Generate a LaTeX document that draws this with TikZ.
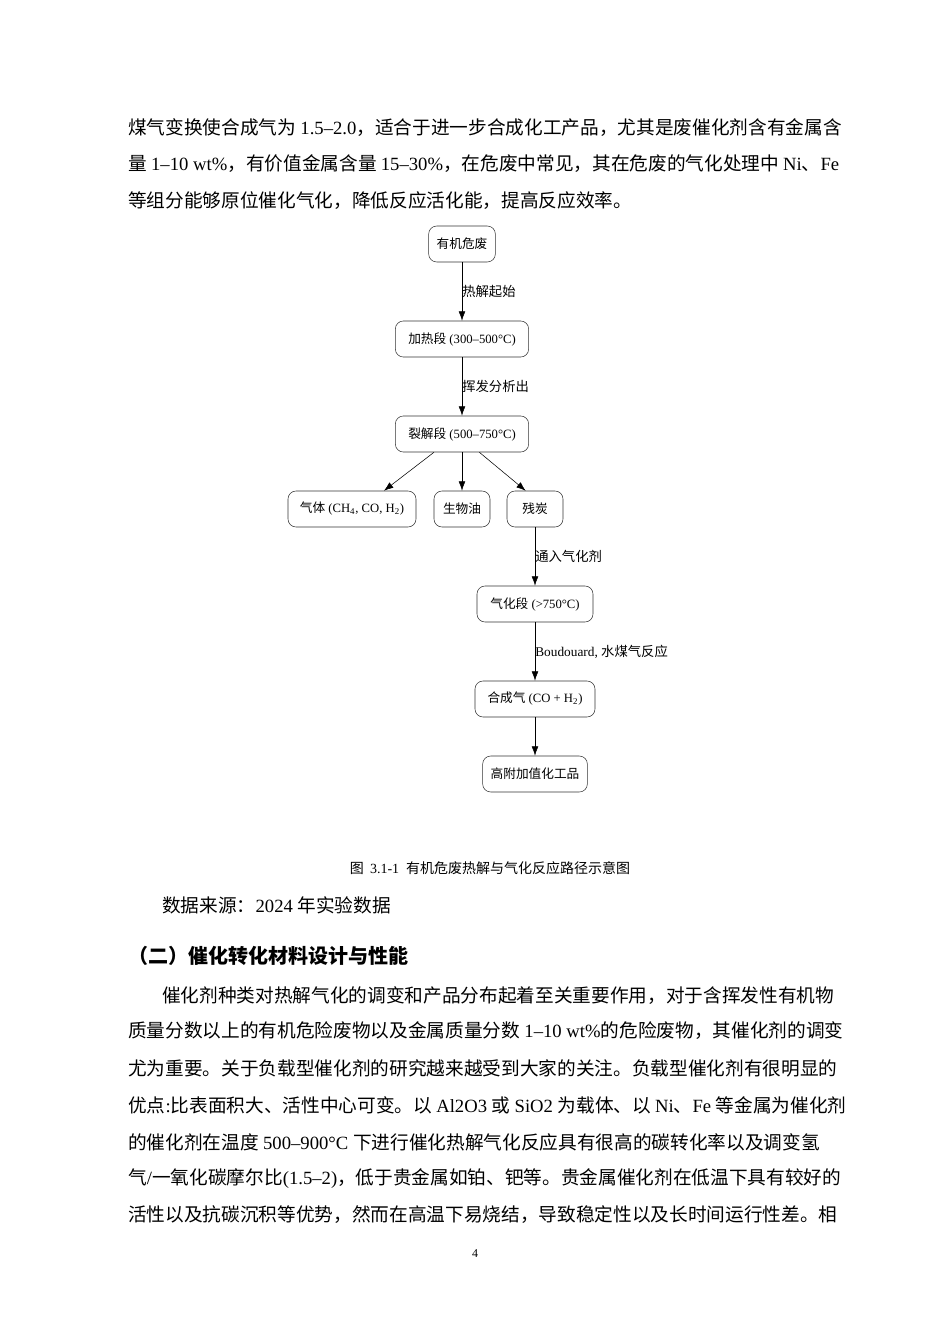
\documentclass[tikz,border=0pt]{standalone}
\usepackage{fontspec}
\setmainfont{Liberation Serif}
\newfontfamily\cjk{Noto Sans CJK SC}
\newfontfamily\cjksans{Noto Sans CJK SC}
\usetikzlibrary{positioning, arrows.meta}

\begin{document}
\begin{tikzpicture}[
    x=0.75pt, y=-0.75pt,
    stage/.style={rectangle, rounded corners=6pt, draw=black!80, thin, minimum height=27pt, inner xsep=6pt, font=\fontsize{9.5}{11}\selectfont},
    arrow/.style={-{Latex[length=7pt,width=5pt]}, thin},
    lbl/.style={right, inner xsep=0pt, font=\cjk\fontsize{10}{11}\selectfont},
    body/.style={anchor=west, inner sep=0pt, font=\fontsize{14}{16}\selectfont}
]
\useasboundingbox (0,0) rectangle (950,1344);

% Text above the picture
\node[body] (t1) at (128,128) {\cjk 煤气变换使合成气为 \rmfamily 1.5–2.0\cjk ，适合于进一步合成化工产品，尤其是废催化剂含有金属含};
\node[body] (t2) at (128,164) {\cjk 量 \rmfamily 1–10 wt\%\cjk ，有价值金属含量 \rmfamily 15–30\%\cjk ，在危废中常见，其在危废的气化处理中 \rmfamily Ni\cjk 、\rmfamily Fe};
\node[body] (t3) at (128,201) {\cjk 等组分能够原位催化气化，降低反应活化能，提高反应效率。};

% Nodes
\node[stage, minimum width=50pt] (waste) at (462,244) {\cjk 有机危废};
\node[stage, minimum width=100pt] (heat) at (462,339) {\cjk 加热段\rmfamily\ (300–500°C)};
\node[stage, minimum width=100pt] (split) at (462,434) {\cjk 裂解段\rmfamily\ (500–750°C)};
\node[stage, minimum width=96pt] (gas) at (352,509) {\cjk 气体\rmfamily\ (CH\textsubscript{4}, CO, H\textsubscript{2})};
\node[stage, minimum width=42pt] (oil) at (462,509) {\cjk 生物油};
\node[stage, minimum width=42pt] (char) at (535,509) {\cjk 残炭};
\node[stage, minimum width=87pt] (gasif) at (535,604) {\cjk 气化段\rmfamily\ (>750°C)};
\node[stage, minimum width=90pt] (syn) at (535,699) {\cjk 合成气\rmfamily\ (CO + H\textsubscript{2})};
\node[stage, minimum width=77pt] (prod) at (535,774) {\cjk 高附加值化工品};

% Arrows
\draw[arrow] (waste) -- node[lbl] {热解起始} (heat);
\draw[arrow] (heat) -- node[lbl] {挥发分析出} (split);
\draw[arrow] ([xshift=-21pt]split.south) -- ([xshift=24pt]gas.north);
\draw[arrow] (split) -- (oil);
\draw[arrow] ([xshift=13pt]split.south) -- ([xshift=-7pt]char.north);
\draw[arrow] (char) -- node[lbl] {通入气化剂} (gasif);
\draw[arrow] (gasif) -- node[lbl] {\rmfamily Boudouard, \cjk 水煤气反应} (syn);
\draw[arrow] (syn) -- (prod);

% Caption and text below
\node[font=\fontsize{10.5}{12}\selectfont] (cap) at (490,868) {\cjk 图\ \ \rmfamily 3.1-1\ \ \cjk 有机危废热解与气化反应路径示意图};
\node[body] (src) at (162,905) {\cjk 数据来源：\rmfamily 2024 \cjk 年实验数据};
\node[body, font=\cjksans\bfseries\fontsize{15}{18}\selectfont] (head) at (128,956) {（二）催化转化材料设计与性能};
\node[body] (p1) at (162,996) {\cjk 催化剂种类对热解气化的调变和产品分布起着至关重要作用，对于含挥发性有机物};
\node[body] (p2) at (128,1031) {\cjk 质量分数以上的有机危险废物以及金属质量分数 \rmfamily 1–10 wt\%\cjk 的危险废物，其催化剂的调变};
\node[body] (p3) at (128,1068) {\cjk 尤为重要。关于负载型催化剂的研究越来越受到大家的关注。负载型催化剂有很明显的};
\node[body] (p4) at (128,1105) {\cjk 优点\rmfamily :\cjk 比表面积大、活性中心可变。以 \rmfamily Al2O3 \cjk 或 \rmfamily SiO2 \cjk 为载体、以 \rmfamily Ni\cjk 、\rmfamily Fe \cjk 等金属为催化剂};
\node[body] (p5) at (128,1142) {\cjk 的催化剂在温度 \rmfamily 500–900°C \cjk 下进行催化热解气化反应具有很高的碳转化率以及调变氢};
\node[body] (p6) at (128,1179) {\cjk 气\rmfamily /\cjk 一氧化碳摩尔比\rmfamily (1.5–2)\cjk ，低于贵金属如铂、钯等。贵金属催化剂在低温下具有较好的};
\node[body] (p7) at (128,1215) {\cjk 活性以及抗碳沉积等优势，然而在高温下易烧结，导致稳定性以及长时间运行性差。相};
\node[font=\fontsize{9}{10}\selectfont] (pg) at (475,1254) {4};
\end{tikzpicture}
\end{document}
